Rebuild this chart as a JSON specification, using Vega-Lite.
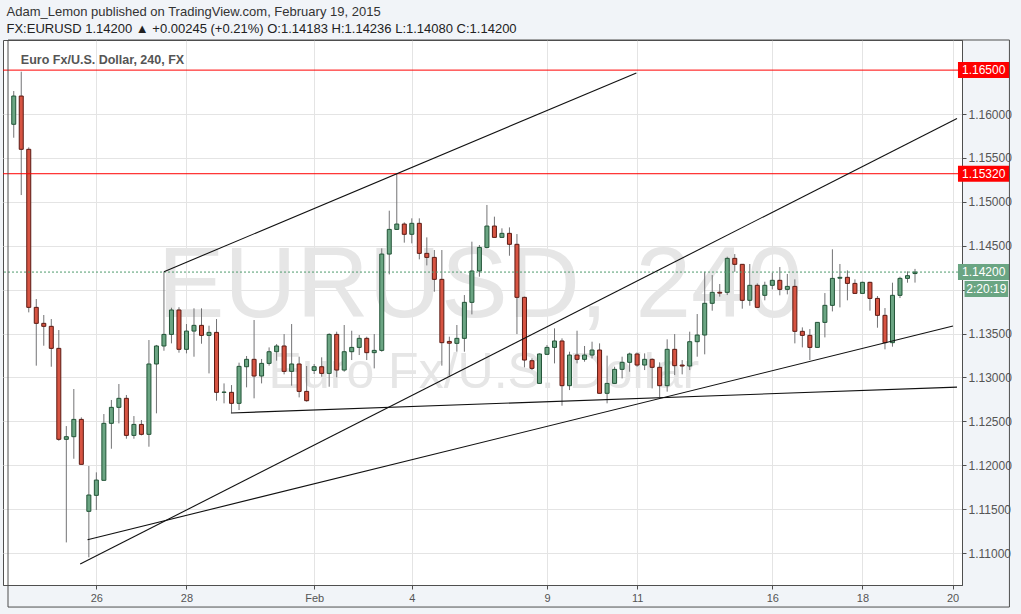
{
  "$schema": "https://vega.github.io/schema/vega-lite/v6.json",
  "width": 959,
  "height": 545,
  "autosize": {"type": "none"},
  "padding": {"left": 3, "top": 40, "right": 59, "bottom": 29},
  "background": "#f1f4f8",
  "config": {
    "view": {"stroke": "#4f4f4f", "strokeWidth": 1, "fill": "white"}
  },
  "title": {
    "text": "Adam_Lemon published on TradingView.com, February 19, 2015",
    "subtitle": "FX:EURUSD  1.14200 ▲ +0.00245 (+0.21%)  O:1.14183  H:1.14236  L:1.14080  C:1.14200",
    "anchor": "start",
    "frame": "bounds",
    "offset": 4,
    "dx": 4,
    "font": "Liberation Sans",
    "fontSize": 13,
    "fontWeight": "normal",
    "color": "#333333",
    "subtitleFont": "Liberation Sans",
    "subtitleFontSize": 13,
    "subtitleFontWeight": "normal",
    "subtitleColor": "#222222",
    "subtitlePadding": 4
  },
  "resolve": {"axis": {"x": "independent", "y": "independent"}},
  "datasets": {
    "one": [{"n": 1}],
    "candles": [
      {"i":0,"o":1.15883,"h":1.16262,"l":1.15730,"c":1.16205},
      {"i":1,"o":1.16205,"h":1.16482,"l":1.15077,"c":1.15598},
      {"i":2,"o":1.15598,"h":1.15620,"l":1.13741,"c":1.13798},
      {"i":3,"o":1.13798,"h":1.13893,"l":1.13134,"c":1.13616},
      {"i":4,"o":1.13616,"h":1.13711,"l":1.13361,"c":1.13582},
      {"i":5,"o":1.13582,"h":1.13665,"l":1.13122,"c":1.13331},
      {"i":6,"o":1.13331,"h":1.13540,"l":1.12279,"c":1.12295},
      {"i":7,"o":1.12295,"h":1.12446,"l":1.11121,"c":1.12325},
      {"i":8,"o":1.12325,"h":1.12868,"l":1.12074,"c":1.12522},
      {"i":9,"o":1.12522,"h":1.12545,"l":1.12010,"c":1.12010},
      {"i":10,"o":1.11475,"h":1.11991,"l":1.10951,"c":1.11661},
      {"i":11,"o":1.11657,"h":1.11919,"l":1.11490,"c":1.11831},
      {"i":12,"o":1.11828,"h":1.12583,"l":1.11828,"c":1.12477},
      {"i":13,"o":1.12477,"h":1.12743,"l":1.12188,"c":1.12659},
      {"i":14,"o":1.12659,"h":1.12925,"l":1.12477,"c":1.12762},
      {"i":15,"o":1.12762,"h":1.12800,"l":1.12302,"c":1.12340},
      {"i":16,"o":1.12340,"h":1.12560,"l":1.12302,"c":1.12465},
      {"i":17,"o":1.12465,"h":1.12515,"l":1.12340,"c":1.12352},
      {"i":18,"o":1.12352,"h":1.13426,"l":1.12211,"c":1.13153},
      {"i":19,"o":1.13153,"h":1.13370,"l":1.12591,"c":1.13358},
      {"i":20,"o":1.13358,"h":1.14204,"l":1.13304,"c":1.13490},
      {"i":21,"o":1.13490,"h":1.13794,"l":1.13388,"c":1.13768},
      {"i":22,"o":1.13768,"h":1.13800,"l":1.13282,"c":1.13320},
      {"i":23,"o":1.13320,"h":1.13608,"l":1.13274,"c":1.13528},
      {"i":24,"o":1.13528,"h":1.13787,"l":1.13236,"c":1.13593},
      {"i":25,"o":1.13593,"h":1.13787,"l":1.13384,"c":1.13479},
      {"i":26,"o":1.13479,"h":1.13589,"l":1.13046,"c":1.13513},
      {"i":27,"o":1.13513,"h":1.13665,"l":1.12735,"c":1.12830},
      {"i":28,"o":1.12830,"h":1.12932,"l":1.12705,"c":1.12833},
      {"i":29,"o":1.12830,"h":1.12913,"l":1.12598,"c":1.12705},
      {"i":30,"o":1.12705,"h":1.13168,"l":1.12629,"c":1.13126},
      {"i":31,"o":1.13122,"h":1.13244,"l":1.12887,"c":1.13206},
      {"i":32,"o":1.13206,"h":1.13654,"l":1.12762,"c":1.13016},
      {"i":33,"o":1.13016,"h":1.13210,"l":1.12932,"c":1.13160},
      {"i":34,"o":1.13160,"h":1.13342,"l":1.13134,"c":1.13293},
      {"i":35,"o":1.13293,"h":1.13380,"l":1.13191,"c":1.13358},
      {"i":36,"o":1.13358,"h":1.13494,"l":1.13035,"c":1.13069},
      {"i":37,"o":1.13069,"h":1.13608,"l":1.12906,"c":1.13153},
      {"i":38,"o":1.13153,"h":1.13236,"l":1.12773,"c":1.12841},
      {"i":39,"o":1.12841,"h":1.13130,"l":1.12724,"c":1.12735},
      {"i":40,"o":1.13080,"h":1.13153,"l":1.13039,"c":1.13122},
      {"i":41,"o":1.13122,"h":1.13229,"l":1.13008,"c":1.13046},
      {"i":42,"o":1.13046,"h":1.13502,"l":1.12894,"c":1.13490},
      {"i":43,"o":1.13490,"h":1.13521,"l":1.13001,"c":1.13084},
      {"i":44,"o":1.13084,"h":1.13597,"l":1.13065,"c":1.13293},
      {"i":45,"o":1.13293,"h":1.13532,"l":1.13198,"c":1.13342},
      {"i":46,"o":1.13342,"h":1.13483,"l":1.13255,"c":1.13445},
      {"i":47,"o":1.13445,"h":1.13464,"l":1.13198,"c":1.13282},
      {"i":48,"o":1.13282,"h":1.13494,"l":1.13103,"c":1.13308},
      {"i":49,"o":1.13308,"h":1.14470,"l":1.13293,"c":1.14405},
      {"i":50,"o":1.14405,"h":1.14899,"l":1.14174,"c":1.14686},
      {"i":51,"o":1.14686,"h":1.15320,"l":1.14680,"c":1.14747},
      {"i":52,"o":1.14747,"h":1.14766,"l":1.14535,"c":1.14630},
      {"i":53,"o":1.14630,"h":1.14812,"l":1.14527,"c":1.14755},
      {"i":54,"o":1.14755,"h":1.14812,"l":1.14345,"c":1.14413},
      {"i":55,"o":1.14413,"h":1.14595,"l":1.14276,"c":1.14367},
      {"i":56,"o":1.14367,"h":1.14451,"l":1.13976,"c":1.14117},
      {"i":57,"o":1.14117,"h":1.14451,"l":1.13134,"c":1.13396},
      {"i":58,"o":1.13410,"h":1.13464,"l":1.13020,"c":1.13390},
      {"i":59,"o":1.13388,"h":1.13597,"l":1.13293,"c":1.13445},
      {"i":60,"o":1.13445,"h":1.13938,"l":1.13293,"c":1.13855},
      {"i":61,"o":1.13855,"h":1.14546,"l":1.13718,"c":1.14212},
      {"i":62,"o":1.14212,"h":1.14508,"l":1.14147,"c":1.14481},
      {"i":63,"o":1.14481,"h":1.14964,"l":1.14470,"c":1.14724},
      {"i":64,"o":1.14724,"h":1.14831,"l":1.14595,"c":1.14595},
      {"i":65,"o":1.14595,"h":1.14698,"l":1.14595,"c":1.14641},
      {"i":66,"o":1.14641,"h":1.14709,"l":1.14386,"c":1.14516},
      {"i":67,"o":1.14516,"h":1.14633,"l":1.13494,"c":1.13912},
      {"i":68,"o":1.13912,"h":1.13920,"l":1.13115,"c":1.13198},
      {"i":69,"o":1.13190,"h":1.13217,"l":1.13084,"c":1.13103},
      {"i":70,"o":1.12932,"h":1.13274,"l":1.12930,"c":1.13267},
      {"i":71,"o":1.13263,"h":1.13369,"l":1.13255,"c":1.13342},
      {"i":72,"o":1.13342,"h":1.13559,"l":1.13160,"c":1.13415},
      {"i":73,"o":1.13415,"h":1.13445,"l":1.12678,"c":1.12906},
      {"i":74,"o":1.12906,"h":1.13293,"l":1.12856,"c":1.13255},
      {"i":75,"o":1.13255,"h":1.13532,"l":1.13160,"c":1.13206},
      {"i":76,"o":1.13206,"h":1.13358,"l":1.13179,"c":1.13255},
      {"i":77,"o":1.13255,"h":1.13407,"l":1.13217,"c":1.13312},
      {"i":78,"o":1.13312,"h":1.13388,"l":1.12819,"c":1.12819},
      {"i":79,"o":1.12819,"h":1.13248,"l":1.12705,"c":1.12932},
      {"i":80,"o":1.12932,"h":1.13122,"l":1.12930,"c":1.13092},
      {"i":81,"o":1.13092,"h":1.13236,"l":1.12989,"c":1.13172},
      {"i":82,"o":1.13172,"h":1.13282,"l":1.13065,"c":1.13267},
      {"i":83,"o":1.13267,"h":1.13282,"l":1.13122,"c":1.13141},
      {"i":84,"o":1.13141,"h":1.13274,"l":1.13084,"c":1.13206},
      {"i":85,"o":1.13206,"h":1.13217,"l":1.12875,"c":1.13115},
      {"i":86,"o":1.13115,"h":1.13172,"l":1.12773,"c":1.12906},
      {"i":87,"o":1.12906,"h":1.13434,"l":1.12838,"c":1.13320},
      {"i":88,"o":1.13320,"h":1.13494,"l":1.13027,"c":1.13134},
      {"i":89,"o":1.13141,"h":1.13198,"l":1.13035,"c":1.13130},
      {"i":90,"o":1.13130,"h":1.13521,"l":1.13084,"c":1.13407},
      {"i":91,"o":1.13407,"h":1.13722,"l":1.13236,"c":1.13483},
      {"i":92,"o":1.13483,"h":1.14204,"l":1.13263,"c":1.13844},
      {"i":93,"o":1.13844,"h":1.14166,"l":1.13760,"c":1.13969},
      {"i":94,"o":1.13970,"h":1.14064,"l":1.13920,"c":1.13960},
      {"i":95,"o":1.13969,"h":1.14375,"l":1.13938,"c":1.14356},
      {"i":96,"o":1.14356,"h":1.14405,"l":1.14204,"c":1.14288},
      {"i":97,"o":1.14288,"h":1.14290,"l":1.13783,"c":1.13878},
      {"i":98,"o":1.13878,"h":1.14292,"l":1.13817,"c":1.14049},
      {"i":99,"o":1.14049,"h":1.14071,"l":1.13798,"c":1.13798},
      {"i":100,"o":1.13935,"h":1.14090,"l":1.13878,"c":1.14049},
      {"i":101,"o":1.14049,"h":1.14193,"l":1.14003,"c":1.14106},
      {"i":102,"o":1.14106,"h":1.14257,"l":1.13935,"c":1.14003},
      {"i":103,"o":1.14003,"h":1.14178,"l":1.13946,"c":1.14037},
      {"i":104,"o":1.14037,"h":1.14117,"l":1.13388,"c":1.13525},
      {"i":105,"o":1.13525,"h":1.13570,"l":1.13342,"c":1.13479},
      {"i":106,"o":1.13479,"h":1.13551,"l":1.13198,"c":1.13342},
      {"i":107,"o":1.13342,"h":1.13630,"l":1.13340,"c":1.13627},
      {"i":108,"o":1.13627,"h":1.13961,"l":1.13456,"c":1.13821},
      {"i":109,"o":1.13821,"h":1.14459,"l":1.13752,"c":1.14128},
      {"i":110,"o":1.14130,"h":1.14292,"l":1.13798,"c":1.14140},
      {"i":111,"o":1.14140,"h":1.14219,"l":1.13878,"c":1.14071},
      {"i":112,"o":1.14071,"h":1.14117,"l":1.13957,"c":1.13957},
      {"i":113,"o":1.13957,"h":1.14090,"l":1.13957,"c":1.14083},
      {"i":114,"o":1.14083,"h":1.14090,"l":1.13760,"c":1.13900},
      {"i":115,"o":1.13900,"h":1.13927,"l":1.13566,"c":1.13707},
      {"i":116,"o":1.13707,"h":1.13790,"l":1.13320,"c":1.13396},
      {"i":117,"o":1.13396,"h":1.14079,"l":1.13350,"c":1.13935},
      {"i":118,"o":1.13935,"h":1.14147,"l":1.13904,"c":1.14128},
      {"i":119,"o":1.14128,"h":1.14208,"l":1.14079,"c":1.14159},
      {"i":120,"o":1.14183,"h":1.14236,"l":1.14080,"c":1.14200}
    ],
    "trend": [
      {"i1":20,"p1":1.14204,"i2":82.9,"p2":1.16468},
      {"i1":8.85,"p1":1.10875,"i2":125.59,"p2":1.1595},
      {"i1":9.82,"p1":1.11151,"i2":125.06,"p2":1.13585},
      {"i1":28.92,"p1":1.12595,"i2":125.59,"p2":1.1289}
    ],
    "levels": [
      {"price":1.165,"label":"1.16500","kind":"level"},
      {"price":1.1532,"label":"1.15320","kind":"level"},
      {"price":1.142,"label":"1.14200","kind":"last"}
    ],
    "countdown": [
      {"price":1.142,"label":"2:20:19"}
    ]
  },
  "data": {"name": "candles"},
  "layer": [
    {
      "data": {"name": "one"},
      "mark": {"type": "text", "text": "EURUSD, 240", "fontSize": 100, "font": "Liberation Sans", "color": "#e6e6e6", "align": "center", "baseline": "alphabetic"},
      "encoding": {
        "x": {"datum": 62.08, "type": "quantitative", "axis": null},
        "y": {"datum": 1.13688, "type": "quantitative", "axis": null}
      }
    },
    {
      "data": {"name": "one"},
      "mark": {"type": "text", "text": "Euro Fx/U.S. Dollar", "fontSize": 50, "font": "Liberation Sans", "color": "#e6e6e6", "align": "center", "baseline": "alphabetic"},
      "encoding": {
        "x": {"datum": 62.6, "type": "quantitative", "axis": null},
        "y": {"datum": 1.12879, "type": "quantitative", "axis": null}
      }
    },
    {
      "mark": {"type": "rule", "color": "#737375", "strokeWidth": 1},
      "encoding": {
        "x": {
          "field": "i", "type": "quantitative",
          "scale": {"domain": [-0.764, 125.59], "nice": false, "zero": false},
          "axis": {
            "title": null, "orient": "bottom",
            "values": [11, 23, 40, 53, 71, 83, 101, 113, 125],
            "labelExpr": "datum.value == 11 ? '26' : datum.value == 23 ? '28' : datum.value == 40 ? 'Feb' : datum.value == 53 ? '4' : datum.value == 71 ? '9' : datum.value == 83 ? '11' : datum.value == 101 ? '16' : datum.value == 113 ? '18' : '20'",
            "grid": true, "gridColor": "#e4e4e4",
            "domainColor": "#4f4f4f", "tickColor": "#4f4f4f", "tickSize": 4,
            "labelColor": "#555555", "labelFontSize": 11, "labelFont": "Liberation Sans", "labelPadding": 3,
            "labelFlush": false, "labelOverlap": false
          }
        },
        "y": {
          "field": "l", "type": "quantitative",
          "scale": {"domain": [1.10636, 1.16843], "nice": false, "zero": false},
          "axis": {
            "title": null, "orient": "right",
            "values": [1.11, 1.115, 1.12, 1.125, 1.13, 1.135, 1.14, 1.145, 1.15, 1.155, 1.16],
            "labelExpr": "datum.value == 1.14 ? '' : format(datum.value, '.5f')",
            "grid": true, "gridColor": "#e4e4e4",
            "domainColor": "#4f4f4f", "tickColor": "#4f4f4f", "tickSize": 4,
            "labelColor": "#555555", "labelFontSize": 12, "labelFont": "Liberation Sans", "labelPadding": 2,
            "labelFlush": false, "labelOverlap": false
          }
        },
        "y2": {"field": "h"}
      }
    },
    {
      "mark": {"type": "bar", "size": 4, "strokeWidth": 1},
      "encoding": {
        "x": {"field": "i", "type": "quantitative", "axis": null},
        "y": {"field": "o", "type": "quantitative", "axis": null},
        "y2": {"field": "c"},
        "fill": {"condition": {"test": "datum.c >= datum.o", "value": "#6ba583"}, "value": "#d75442"},
        "stroke": {"condition": {"test": "datum.c >= datum.o", "value": "#225437"}, "value": "#5b1a13"}
      }
    },
    {
      "data": {"name": "levels"},
      "mark": {"type": "rule", "strokeWidth": 1},
      "encoding": {
        "y": {"field": "price", "type": "quantitative", "axis": null},
        "color": {"field": "kind", "type": "nominal", "scale": {"domain": ["level", "last"], "range": ["#ff0000", "#4e9a6c"]}, "legend": null},
        "strokeDash": {"field": "kind", "type": "nominal", "scale": {"domain": ["level", "last"], "range": [[1, 0], [2, 2]]}, "legend": null}
      }
    },
    {
      "data": {"name": "trend"},
      "mark": {"type": "rule", "color": "#111111", "strokeWidth": 1.1},
      "encoding": {
        "x": {"field": "i1", "type": "quantitative", "axis": null},
        "x2": {"field": "i2"},
        "y": {"field": "p1", "type": "quantitative", "axis": null},
        "y2": {"field": "p2"}
      }
    },
    {
      "data": {"name": "one"},
      "mark": {"type": "text", "text": "Euro Fx/U.S. Dollar, 240, FX", "fontSize": 12.5, "fontWeight": "bold", "font": "Liberation Sans", "color": "#555555", "align": "left", "baseline": "middle"},
      "encoding": {
        "x": {"datum": 0.95, "type": "quantitative", "axis": null},
        "y": {"datum": 1.16615, "type": "quantitative", "axis": null}
      }
    },
    {
      "data": {"name": "levels"},
      "mark": {"type": "rect", "yOffset": -8, "y2Offset": 8},
      "encoding": {
        "x": {"datum": 125.72, "type": "quantitative", "axis": null},
        "x2": {"datum": 132.57},
        "y": {"field": "price", "type": "quantitative", "axis": null},
        "y2": {"field": "price"},
        "fill": {"field": "kind", "type": "nominal", "scale": {"domain": ["level", "last"], "range": ["#ff0000", "#6aa583"]}, "legend": null}
      }
    },
    {
      "data": {"name": "levels"},
      "mark": {"type": "text", "color": "white", "fontSize": 12, "font": "Liberation Sans", "align": "center", "baseline": "middle"},
      "encoding": {
        "x": {"datum": 129.14, "type": "quantitative", "axis": null},
        "y": {"field": "price", "type": "quantitative", "axis": null},
        "text": {"field": "label"}
      }
    },
    {
      "data": {"name": "countdown"},
      "mark": {"type": "rect", "fill": "#6aa583", "yOffset": 9, "y2Offset": 25},
      "encoding": {
        "x": {"datum": 126.6, "type": "quantitative", "axis": null},
        "x2": {"datum": 132.4},
        "y": {"field": "price", "type": "quantitative", "axis": null},
        "y2": {"field": "price"}
      }
    },
    {
      "data": {"name": "countdown"},
      "mark": {"type": "text", "color": "white", "fontSize": 12, "font": "Liberation Sans", "align": "center", "baseline": "middle", "yOffset": 17},
      "encoding": {
        "x": {"datum": 129.5, "type": "quantitative", "axis": null},
        "y": {"field": "price", "type": "quantitative", "axis": null},
        "text": {"field": "label"}
      }
    },
    {
      "data": {"name": "one"},
      "mark": {"type": "rect", "filled": false, "stroke": "#4f4f4f", "strokeWidth": 1},
      "encoding": {
        "x": {"datum": -0.764, "type": "quantitative", "axis": null},
        "x2": {"datum": 132.57},
        "y": {"datum": 1.16843, "type": "quantitative", "axis": null},
        "y2": {"datum": 1.10385}
      }
    }
  ]
}
